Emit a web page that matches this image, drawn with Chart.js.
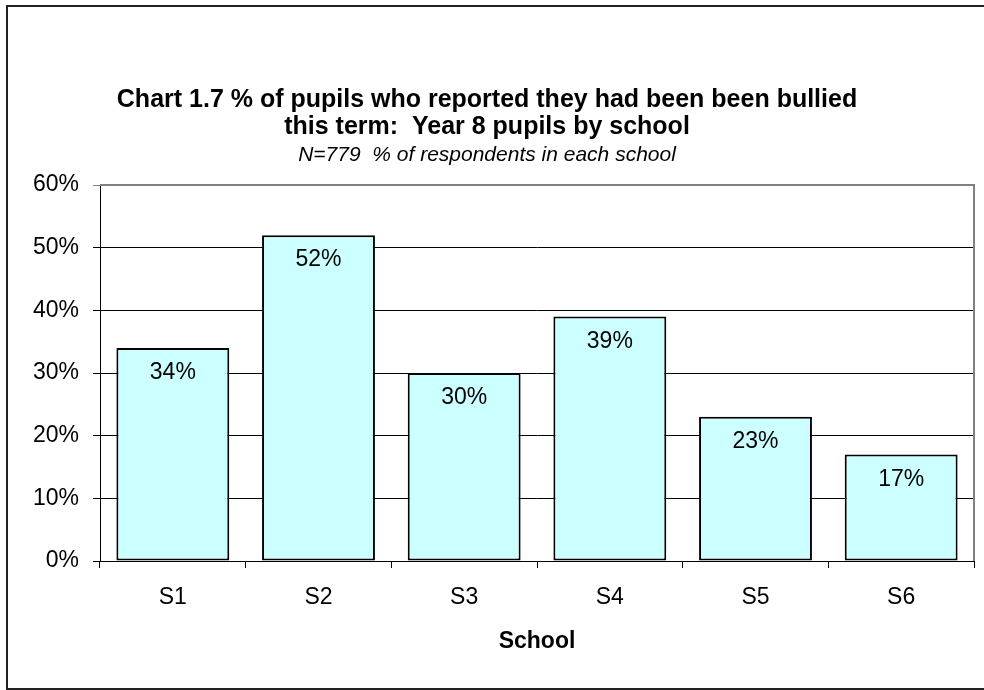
<!DOCTYPE html>
<html>
<head>
<meta charset="utf-8">
<title>Bullying by school</title>
<script src="https://cdn.jsdelivr.net/npm/chart.js@4/dist/chart.umd.min.js"></script>
<style>
  html, body { margin: 0; padding: 0; background: #fff; }
  canvas { display: block; }
</style>
</head>
<body>
<canvas id="myChart" width="984" height="690"></canvas>
<script>
var schools = ["S1", "S2", "S3", "S4", "S5", "S6"];
var bulliedPct = [34, 52, 30, 39, 23, 17];
var yTicks = [0, 10, 20, 30, 40, 50, 60];

var titleLines = [
  "Chart 1.7 % of pupils who reported they had been been bullied",
  "this term:  Year 8 pupils by school"
];
var subTitle = "N=779  % of respondents in each school";

var FONT = "'Liberation Sans', Arial, sans-serif";

// frame round the whole chart plus the grey plot-area edge
var framePlugin = {
  id: "frame",
  beforeDatasetsDraw: function(chart) {
    var ctx = chart.ctx;
    var a = chart.chartArea;
    ctx.save();
    ctx.strokeStyle = "#808080";
    ctx.lineWidth = 2;
    ctx.beginPath();
    ctx.moveTo(a.left, a.top);
    ctx.lineTo(a.right, a.top);
    ctx.lineTo(a.right, a.bottom);
    ctx.stroke();
    ctx.restore();
  },
  afterDraw: function(chart) {
    var ctx = chart.ctx;
    ctx.save();
    ctx.strokeStyle = "#222";
    ctx.lineWidth = 2;
    ctx.strokeRect(7, 6, 1000, 683);
    ctx.restore();
  }
};

// value printed inside the top of each bar
var barLabels = {
  id: "barLabels",
  afterDatasetsDraw: function(chart) {
    var ctx = chart.ctx;
    var meta = chart.getDatasetMeta(0);
    ctx.save();
    ctx.font = "23px " + FONT;
    ctx.fillStyle = "#000";
    ctx.textAlign = "center";
    ctx.textBaseline = "middle";
    meta.data.forEach(function(bar, i) {
      ctx.fillText(bulliedPct[i] + "%", bar.x, bar.y + 25);
    });
    ctx.restore();
  }
};

var data = {
  labels: schools,
  datasets: [{
    label: "Bullied this term",
    data: bulliedPct,
    backgroundColor: "#CCFFFF",
    borderColor: "#000",
    borderWidth: 2,
    borderSkipped: false,
    categoryPercentage: 1,
    barPercentage: 0.775
  }]
};

var config = {
  type: "bar",
  data: data,
  options: {
    responsive: false,
    animation: false,
    devicePixelRatio: 1,
    layout: { padding: { left: 0, right: 10, top: 0, bottom: 0 } },
    plugins: {
      legend: { display: false },
      tooltip: { enabled: false },
      title: {
        display: true,
        text: titleLines,
        color: "#000",
        font: { family: FONT, size: 25, weight: "bold", lineHeight: "27px" },
        padding: { top: 87, bottom: 0 }
      },
      subtitle: {
        display: true,
        text: subTitle,
        color: "#000",
        font: { family: FONT, size: 21, style: "italic", lineHeight: "24px" },
        padding: { top: 2, bottom: 18 }
      }
    },
    scales: {
      x: {
        afterFit: function(scale) { scale.height = 129; },
        grid: {
          drawOnChartArea: false,
          drawTicks: true,
          tickLength: 7,
          color: "#000",
          offset: true
        },
        border: { color: "#000", width: 1 },
        ticks: {
          color: "#000",
          padding: 16,
          font: { family: FONT, size: 23 }
        },
        title: {
          display: true,
          text: "School",
          color: "#000",
          font: { family: FONT, size: 23, weight: "bold" },
          padding: { top: 0, bottom: 35 }
        }
      },
      y: {
        min: 0,
        max: 60,
        afterFit: function(scale) { scale.width = 100; },
        afterBuildTicks: function(scale) {
          scale.ticks = yTicks.map(function(v) { return { value: v }; });
        },
        grid: {
          color: function(c) { return c.tick && c.tick.value === 60 ? "#808080" : "#000"; },
          lineWidth: 1,
          tickLength: 7,
          drawTicks: true
        },
        border: { color: "#000", width: 1 },
        ticks: {
          color: "#000",
          padding: 14,
          font: { family: FONT, size: 23 },
          callback: function(v) { return v + "%"; }
        }
      }
    }
  },
  plugins: [framePlugin, barLabels]
};

var myChart = new Chart(document.getElementById("myChart"), config);
</script>
</body>
</html>
